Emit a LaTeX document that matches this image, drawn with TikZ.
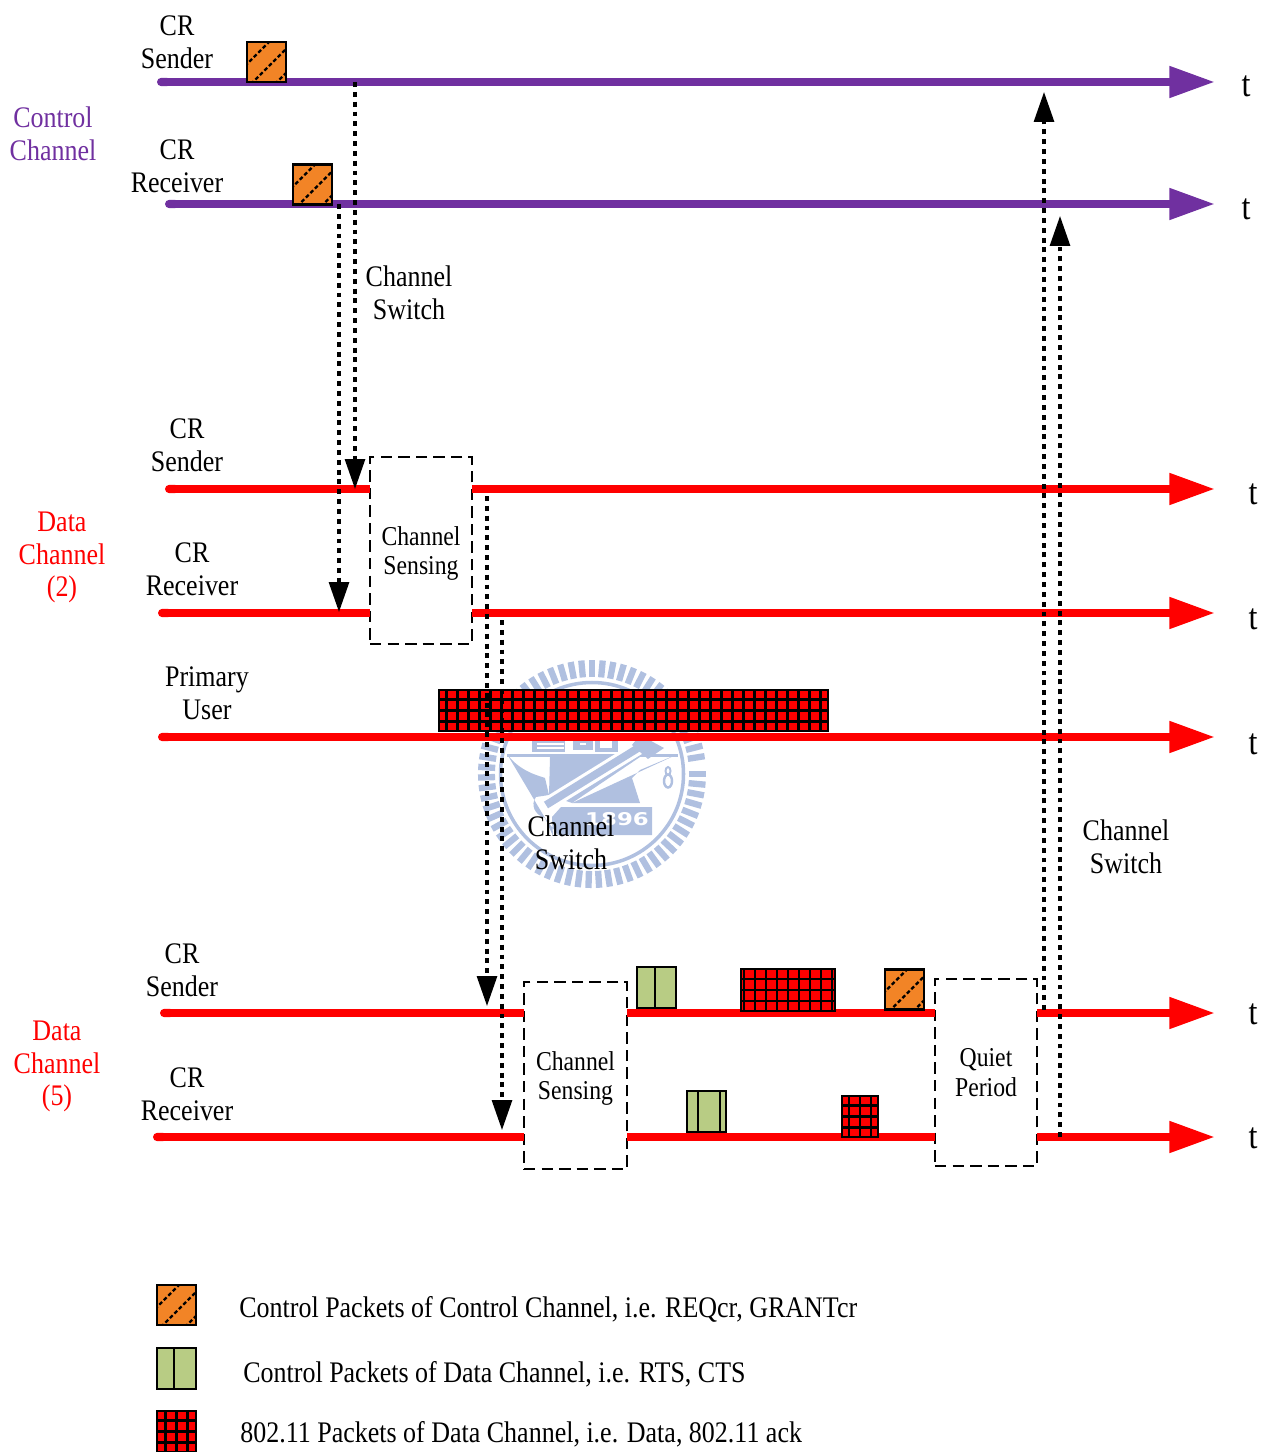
\documentclass[tikz,border=0pt]{standalone}
\usepackage{fontspec}
\setmainfont[FakeStretch=0.87]{Liberation Serif}
\newfontfamily\crestfont[FakeStretch=1.3]{DejaVu Sans}
\usetikzlibrary{arrows.meta}
\usetikzlibrary{calc}
\definecolor{ctrlpurple}{RGB}{112,48,160}
\definecolor{pktorange}{RGB}{242,132,38}
\definecolor{pktgreen}{RGB}{184,204,132}
\definecolor{crest}{RGB}{176,192,224}
\tikzset{
    timeline/.style={line width=4.7pt, {Round Cap[]}-{Triangle[length=26pt,width=17pt]}},
    gapline/.style={line width=4.7pt, red, -{Triangle[length=26pt,width=17pt]}},
    segment/.style={line width=4.7pt, red},
    startseg/.style={line width=4.7pt, red, {Round Cap[]}-},
    switch/.style={line width=1.8pt, dash pattern=on 2.8pt off 2.8pt, -{Triangle[length=17pt,width=11.3pt]}},
    sensebox/.style={draw, line width=1pt, dash pattern=on 6.5pt off 3.5pt, inner sep=0pt, outer sep=0pt},
    sensetext/.style={align=center, font=\fontsize{15.5}{17}\selectfont},
    label/.style={align=center, font=\fontsize{17}{18.7}\selectfont},
    tlabel/.style={font=\fontsize{21}{23}\selectfont},
    legend/.style={anchor=west, inner sep=0pt, font=\fontsize{17}{18.7}\selectfont},
    pkt/.style={draw, line width=1.2pt, inner sep=0pt, outer sep=0pt},
    orangebox/.style={pkt, fill=pktorange, minimum width=0.78cm, minimum height=0.8cm,
        path picture={
            \foreach \d in {-20,4,28}
                \draw[line width=1.3pt, dash pattern=on 2.2pt off 1.4pt] (path picture bounding box.south west) ++(\d,2) -- ++(44,-44);
        }},
    greenbox/.style={pkt, fill=pktgreen, minimum width=0.78cm, minimum height=0.82cm,
        path picture={
            \foreach \v in {#1}
                \draw[line width=1.4pt] (path picture bounding box.south west) ++(\v,2) -- ++(0,-46);
        }},
    gridbox/.style={pkt, fill=red,
        path picture={
            \draw[line width=1.2pt, step=0.22cm] (path picture bounding box.south west) grid (path picture bounding box.north east);
        }},
}
\begin{document}
\begin{tikzpicture}[x=0.02cm, y=-0.02cm]
    \useasboundingbox (0,0) rectangle (1272,1452);

    % crest behind the picture
    \foreach \a in {0,5.4,...,355}
        \draw[crest, line width=3.6pt] (592,774) ++(\a:97) -- ++(\a:17);
    \draw[crest, line width=2pt] (592,774) circle (91.5);
    \fill[crest] (507,754) .. controls (520,772) and (540,776) .. (545,778)
        -- (549,795) -- (536,797) .. controls (530,805) and (535,815) .. (545,818)
        -- (553,836) -- (552,817) -- (561,807) -- (652,807) -- (652,835) -- (558,835) -- (545,818) -- cycle;
    \fill[crest] (572,803) -- (640,803) -- (632,778) -- (640,770) -- (678,754) -- cycle;
    \fill[crest] (507,754) rectangle (678,757);
    \fill[crest] (550,757) -- (640,757) -- (572,803) -- (549,795) -- cycle;
    \fill[crest] (532,741) rectangle (565,752);
    \fill[white] (537,743) rectangle (564,744.5);
    \fill[white] (537,747) rectangle (564,748.5);
    \fill[crest] (573,741) rectangle (593,750);
    \fill[white] (580,743) rectangle (586,745);
    \fill[crest] (595,741) rectangle (618,752);
    \fill[white] (600,741) rectangle (612,748);
    \draw[white, line width=8pt] (546,805) -- (643,745);
    \draw[crest, line width=4.4pt] (546,805) -- (643,745);
    \fill[crest] (640,735) -- (664,748) -- (648,759) -- (632,745) -- cycle;
    \node[white, font=\fontsize{10}{12}\crestfont\bfseries, inner sep=0pt] (year) at (617,819.5) {1896};
    \draw[crest, line width=1.1pt] (668,771) ellipse (2.5 and 4);
    \draw[crest, line width=1.4pt] (668,781) ellipse (4 and 6.5);

    % time axes
    \coordinate (s1) at (157,82);  \coordinate (e1) at (1215,82);
    \coordinate (s2) at (165,204); \coordinate (e2) at (1215,204);
    \coordinate (s3) at (165,489); \coordinate (e3) at (1215,489);
    \coordinate (s4) at (158,613); \coordinate (e4) at (1215,613);
    \coordinate (s5) at (158,737); \coordinate (e5) at (1215,737);
    \coordinate (s6) at (160,1013); \coordinate (e6) at (1215,1013);
    \coordinate (s7) at (153,1137); \coordinate (e7) at (1215,1137);

    \node[sensebox, minimum width=2.04cm, minimum height=3.74cm] (sense1) at (421,550.5) {};
    \node[sensebox, minimum width=2.06cm, minimum height=3.74cm] (sense2) at (575.5,1075.5) {};
    \node[sensebox, minimum width=2.04cm, minimum height=3.74cm] (quiet) at (986,1072.5) {};

    \draw[timeline, ctrlpurple] (s1) -- (e1);
    \draw[timeline, ctrlpurple] (s2) -- (e2);

    \draw[startseg] (s3) -- (s3 -| sense1.west);
    \draw[gapline] (s3 -| sense1.east) -- (e3);
    \draw[startseg] (s4) -- (s4 -| sense1.west);
    \draw[gapline] (s4 -| sense1.east) -- (e4);
    \draw[timeline, red] (s5) -- (e5);

    \draw[startseg] (s6) -- (s6 -| sense2.west);
    \draw[segment] (s6 -| sense2.east) -- (s6 -| quiet.west);
    \draw[gapline] (s6 -| quiet.east) -- (e6);
    \draw[startseg] (s7) -- (s7 -| sense2.west);
    \draw[segment] (s7 -| sense2.east) -- (s7 -| quiet.west);
    \draw[gapline] (s7 -| quiet.east) -- (e7);

    % packets
    \node[orangebox] (req) at (266.5,62) {};
    \node[orangebox] (grant) at (312.5,184.5) {};
    \node[gridbox, minimum width=7.78cm, minimum height=0.82cm] (pu) at (633.5,710.5) {};
    \node[greenbox={18}] (rts) at (656.5,987.5) {};
    \node[gridbox, minimum width=1.88cm, minimum height=0.84cm] (data) at (788,990) {};
    \node[orangebox] (ctrl) at (904.5,989.5) {};
    \node[greenbox={{11,33}}] (cts) at (706.5,1111.5) {};
    \node[gridbox, minimum width=0.72cm, minimum height=0.82cm] (ack) at (860,1116.5) {};

    % channel switches
    \coordinate (a1) at (355,82);   \coordinate (b1) at (355,489);
    \coordinate (a2) at (339,204);  \coordinate (b2) at (339,612);
    \coordinate (a3) at (487,496);  \coordinate (b3) at (487,1006);
    \coordinate (a4) at (502,620);  \coordinate (b4) at (502,1130);
    \coordinate (a5) at (1044,1010); \coordinate (b5) at (1044,92);
    \coordinate (a6) at (1060,1137); \coordinate (b6) at (1060,216);
    \draw[switch] (a1) -- (b1);
    \draw[switch] (a2) -- (b2);
    \draw[switch] (a3) -- (b3);
    \draw[switch] (a4) -- (b4);
    \draw[switch] (a5) -- (b5);
    \draw[switch] (a6) -- (b6);

    \node[sensetext] (sensetext1) at (421,553.5) {Channel\\Sensing};
    \node[sensetext] (sensetext2) at (575.5,1078.5) {Channel\\Sensing};
    \node[sensetext] (quiettext) at (986,1073) {Quiet\\Period};

    \node[label] (tx1) at (177,42) {CR\\Sender};
    \node[label] (rx1) at (177,166) {CR\\Receiver};
    \node[label] (tx2) at (187,445) {CR\\Sender};
    \node[label] (rx2) at (192,569) {CR\\Receiver};
    \node[label] (primary) at (207,693) {Primary\\User};
    \node[label] (tx3) at (182,970) {CR\\Sender};
    \node[label] (rx3) at (187,1094) {CR\\Receiver};

    \node[label, ctrlpurple] (control) at (53,134) {Control\\Channel};
    \node[label, red] (data2) at (62,557.5) {Data\\Channel\\(2)};
    \node[label, red] (data5) at (57,1066.5) {Data\\Channel\\(5)};

    \node[label] (sw1) at (409,293) {Channel\\Switch};
    \node[label] (sw2) at (571,843) {Channel\\Switch};
    \node[label] (sw3) at (1126,847) {Channel\\Switch};

    \node[tlabel] (t1) at (1246,86) {t};
    \node[tlabel] (t2) at (1246,209) {t};
    \node[tlabel] (t3) at (1253,494) {t};
    \node[tlabel] (t4) at (1253,619) {t};
    \node[tlabel] (t5) at (1253,744) {t};
    \node[tlabel] (t6) at (1253,1014) {t};
    \node[tlabel] (t7) at (1253,1138) {t};

    % legend
    \node[orangebox] (key1) at (176.5,1305) {};
    \node[greenbox={17}] (key2) at (176.5,1368.5) {};
    \node[gridbox, minimum width=0.78cm, minimum height=0.82cm] (key3) at (176.5,1431.5) {};
    \node[legend] (text1) at (239,1309.5) {Control Packets of Control Channel, i.e. REQcr, GRANTcr};
    \node[legend] (text2) at (243,1374) {Control Packets of Data Channel, i.e. RTS, CTS};
    \node[legend] (text3) at (240,1434.5) {802.11 Packets of Data Channel, i.e. Data, 802.11 ack};
\end{tikzpicture}
\end{document}
